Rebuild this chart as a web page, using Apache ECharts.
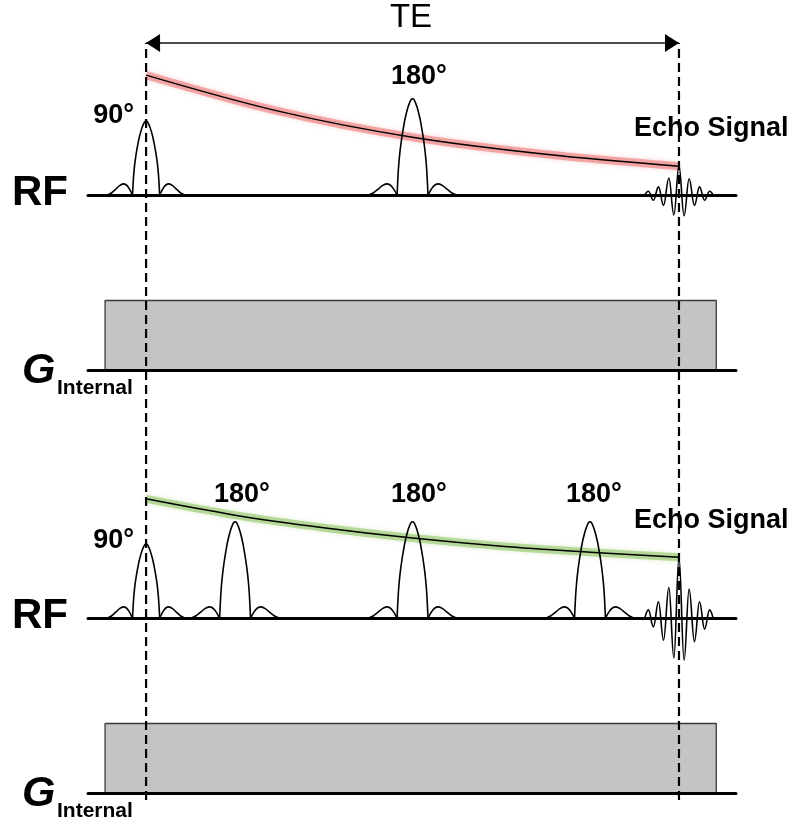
<!DOCTYPE html>
<html><head><meta charset="utf-8">
<script src="https://cdn.jsdelivr.net/npm/echarts@6/dist/echarts.min.js"></script>
<style>html,body{margin:0;padding:0;background:#fff}#chart{width:793px;height:823px}</style>
</head><body><div id="chart"></div>
<script>
// ---------------- data (time in units where TE = 100) ----------------
const TE = 100;
const timeAxisMin = -10.9, timeAxisMax = 110.7;

const topPulseTimes = [0, 50];
const topPulseAngles = [90, 180];
const bottomPulseTimes = [0, 16.7, 50, 83.3];
const bottomPulseAngles = [90, 180, 180, 180];
const pulseAmpByAngle = {90: 1.0, 180: 1.3};
const pulseHalfWidthByAngle = {90: 2.55, 180: 2.9};
const sideLobeAmp = 0.15;

// pulse envelope template (x in main-lobe half-widths)
const mainLobeX = [-1, -0.94, -0.88, -0.8, -0.7, -0.6, -0.5, -0.4, -0.3, -0.2, -0.1, 0, 0.1, 0.2, 0.3, 0.4, 0.5, 0.6, 0.7, 0.8, 0.88, 0.94, 1];
const mainLobeY = [0, 0.2, 0.34, 0.47, 0.59, 0.69, 0.78, 0.85, 0.91, 0.955, 0.99, 1, 0.99, 0.955, 0.91, 0.85, 0.78, 0.69, 0.59, 0.47, 0.34, 0.2, 0];
const sideLobeX = [1, 1.25, 1.45, 1.68, 1.95, 2.25, 2.55, 2.83];
const sideLobeY = [0, 0.6, 0.9, 1, 0.85, 0.5, 0.18, 0];

// T2 decay envelopes
const topDecayTimes = [0, 25, 50, 75, 100];
const topDecayValues = [1.62, 1.13, 0.78, 0.55, 0.39];
const bottomDecayTimes = [0, 16.7, 33.3, 50, 66.7, 83.3, 100];
const bottomDecayValues = [1.61, 1.39, 1.22, 1.08, 0.97, 0.89, 0.82];

// echo extrema (offset from TE)
const echoOffsets = [-6.4, -5.75, -4.8, -3.85, -2.9, -1.9, -0.96, 0, 0.96, 1.9, 2.9, 3.85, 4.8, 5.75, 6.4];
const topEchoValues = [0, 0.05, -0.07, 0.11, -0.14, 0.23, -0.27, 0.39, -0.28, 0.22, -0.14, 0.11, -0.07, 0.05, 0];
const bottomEchoValues = [0, 0.11, -0.12, 0.22, -0.3, 0.41, -0.54, 0.82, -0.57, 0.39, -0.32, 0.22, -0.15, 0.11, 0];

// internal gradient
const gradientTimes = [-7.7, 107];
const gradientAmp = 1;

// ---------------- layout ----------------
const PLOT_LEFT = 88, PLOT_RIGHT_GAP = 57;
const panels = [
  {base: 195, unit: 74, yMin: -0.8, yMax: 2.2},   // RF top
  {base: 370, unit: 69.5, yMin: 0, yMax: 1.2},    // G top
  {base: 618, unit: 74, yMin: -0.8, yMax: 2.2},   // RF bottom
  {base: 793, unit: 69.5, yMin: 0, yMax: 1.2}     // G bottom
];
const overlay = {top: 43, bottom: 800};

const grids = [], xAxes = [], yAxes = [], series = [];
panels.forEach((p, i) => {
  grids.push({left: PLOT_LEFT, right: PLOT_RIGHT_GAP, top: p.base - p.yMax * p.unit,
              height: (p.yMax - p.yMin) * p.unit, containLabel: false, outerBoundsMode: 'none'});
  xAxes.push({gridIndex: i, type: 'value', min: timeAxisMin, max: timeAxisMax, z: 5,
    axisLine: {show: true, onZero: true, lineStyle: {color: '#000', width: 3}},
    axisTick: {show: false}, axisLabel: {show: false}, splitLine: {show: false}});
  yAxes.push({gridIndex: i, type: 'value', min: p.yMin, max: p.yMax, show: false,
    splitLine: {show: false}});
});
grids.push({left: PLOT_LEFT, right: PLOT_RIGHT_GAP, top: overlay.top, height: overlay.bottom - overlay.top,
            containLabel: false, outerBoundsMode: 'none'});
xAxes.push({gridIndex: 4, type: 'value', min: timeAxisMin, max: timeAxisMax, show: false, splitLine: {show: false}});
yAxes.push({gridIndex: 4, type: 'value', min: 0, max: 1, show: false, splitLine: {show: false}});

const lineBase = {type: 'line', symbol: 'none', silent: true, clip: false, animation: false};

function addLine(grid, data, style, extra) {
  series.push(Object.assign({}, lineBase, {xAxisIndex: grid, yAxisIndex: grid, data: data,
    lineStyle: style}, extra || {}));
}

function addPulse(grid, t0, angle) {
  const amp = pulseAmpByAngle[angle], hw = pulseHalfWidthByAngle[angle];
  const st = {color: '#000', width: 1.6};
  addLine(grid, sideLobeX.map((x, i) => [t0 - x * hw, sideLobeY[i] * sideLobeAmp]).reverse(), st, {smooth: 0.3});
  addLine(grid, mainLobeX.map((x, i) => [t0 + x * hw, mainLobeY[i] * amp]), st, {smooth: 0.3});
  addLine(grid, sideLobeX.map((x, i) => [t0 + x * hw, sideLobeY[i] * sideLobeAmp]), st, {smooth: 0.3});
}

// gradient boxes
[1, 3].forEach(g => {
  const [s, e] = gradientTimes;
  addLine(g, [[s, 0], [s, gradientAmp], [e, gradientAmp], [e, 0]],
    {color: '#3a3a3a', width: 1.3}, {areaStyle: {color: '#c4c4c4', opacity: 1}});
});

// decay envelopes with glow
function addDecay(grid, times, vals, glow) {
  const d = times.map((t, i) => [t, vals[i]]);
  addLine(grid, d, {color: glow, width: 8, shadowBlur: 5, shadowColor: glow}, {smooth: 0.35});
  addLine(grid, d, {color: '#000', width: 1.5}, {smooth: 0.35});
}
addDecay(0, topDecayTimes, topDecayValues, 'rgba(236,100,100,0.5)');
addDecay(2, bottomDecayTimes, bottomDecayValues, 'rgba(130,190,80,0.5)');

// RF pulses
topPulseTimes.forEach((t, i) => addPulse(0, t, topPulseAngles[i]));
bottomPulseTimes.forEach((t, i) => addPulse(2, t, bottomPulseAngles[i]));

// echoes
addLine(0, echoOffsets.map((o, i) => [TE + o, topEchoValues[i]]), {color: '#000', width: 1.6},
  {smooth: 0.4, smoothMonotone: 'x'});
addLine(2, echoOffsets.map((o, i) => [TE + o, bottomEchoValues[i]]), {color: '#000', width: 1.6},
  {smooth: 0.4, smoothMonotone: 'x'});

// dashed timing lines at 0 and TE
[0, TE].forEach(t => addLine(4, [[t, 0], [t, 1]], {color: '#000', width: 2.2, type: [9, 5]}));

// TE arrow
series.push(Object.assign({}, lineBase, {xAxisIndex: 4, yAxisIndex: 4,
  lineStyle: {color: '#111', width: 1.5},
  data: [
    {value: [0, 1], symbol: 'triangle', symbolSize: [18, 14], symbolRotate: 90, symbolOffset: [7, 0],
     itemStyle: {color: '#000'}},
    {value: [TE, 1], symbol: 'triangle', symbolSize: [18, 14], symbolRotate: -90, symbolOffset: [-7, 0],
     itemStyle: {color: '#000'}}
  ],
  showSymbol: true, showAllSymbol: true, symbol: 'triangle', itemStyle: {color: '#000'}
}));

// ---------------- text ----------------
const FF = '"Liberation Sans", Arial, Helvetica, sans-serif';
function txt(text, x, y, size, opts) {
  opts = opts || {};
  return {type: 'text', x: x, y: y, silent: true, z: 100,
    style: {text: text, fill: '#000', fontFamily: FF, fontSize: size,
      fontWeight: opts.weight || 'bold', fontStyle: opts.italic ? 'italic' : 'normal',
      align: opts.align || 'left', textAlign: opts.align || 'left',
      verticalAlign: 'middle', textVerticalAlign: 'middle'}};
}
const graphics = [
  txt('TE', 411, 18, 33, {weight: 'normal', align: 'center'}),
  txt('RF', 12, 193, 42),
  txt('RF', 12, 616, 42),
  txt('G', 22, 371, 43, {italic: true}),
  txt('Internal', 57, 388, 21),
  txt('G', 22, 794, 43, {italic: true}),
  txt('Internal', 57, 811, 21),
  txt('90°', 134, 116, 27, {align: 'right'}),
  txt('180°', 391, 77, 27),
  txt('Echo Signal', 634, 129, 27),
  txt('90°', 134, 541, 27, {align: 'right'}),
  txt('180°', 214, 495, 27),
  txt('180°', 391, 495, 27),
  txt('180°', 566, 495, 27),
  txt('Echo Signal', 634, 521, 27)
];

const chart = echarts.init(document.getElementById('chart'), null, {renderer: 'canvas'});
chart.setOption({
  animation: false,
  backgroundColor: '#fff',
  grid: grids, xAxis: xAxes, yAxis: yAxes,
  series: series,
  graphic: graphics
});
</script></body></html>
